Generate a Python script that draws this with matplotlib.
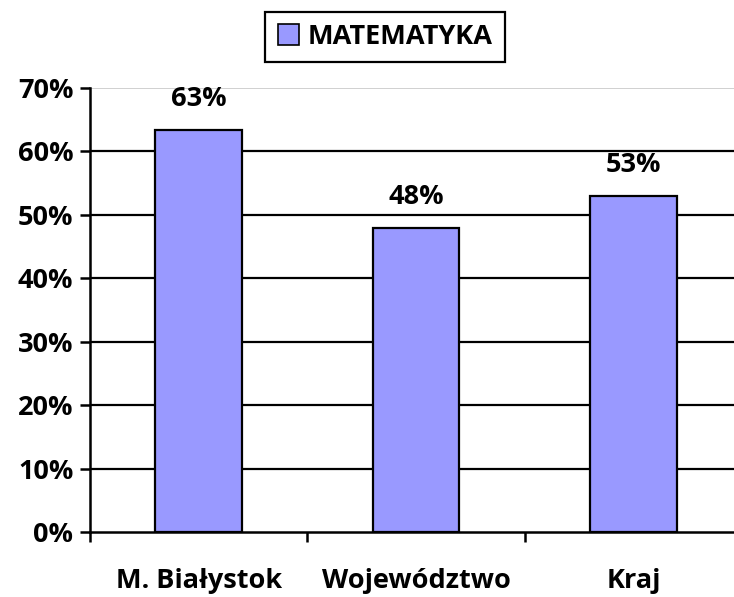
import matplotlib
matplotlib.use("Agg")
import matplotlib.pyplot as plt
from matplotlib.patches import Patch
import numpy as np

categories = ["M. Białystok", "Województwo", "Kraj"]
values = [63.4, 47.9, 53.0]
value_labels = ["63%", "48%", "53%"]
yticks = [0, 10, 20, 30, 40, 50, 60, 70]
series_name = "MATEMATYKA"

plt.rcParams["font.family"] = ["Open Sans", "DejaVu Sans"]
plt.rcParams["font.weight"] = "bold"
FS = 19.5

fig = plt.figure(figsize=(7.34, 5.97), dpi=100)
ax = fig.add_axes([90 / 734, 65 / 597, 652 / 734, 444 / 597])

x = np.arange(len(categories))
ax.bar(x, values, 0.4, color="#9999FF", edgecolor="black", linewidth=1.6, zorder=3)

for xi, v, lab in zip(x, values, value_labels):
    ax.annotate(lab, (xi, v), xytext=(0, 13), textcoords="offset points",
                ha="center", va="bottom", fontsize=FS, fontweight="bold")

ax.set_xlim(-0.5, 2.5)
ax.set_ylim(0, 70)
ax.set_yticks(yticks)
ax.set_yticklabels([f"{t}%" for t in yticks], fontsize=FS, fontweight="bold")
for t in yticks[1:-1]:
    ax.axhline(t, color="black", lw=1.6, zorder=1)
ax.axhline(70, color="#c8c8c8", lw=1.2, zorder=1)

ax.set_xticks(x)
ax.set_xticklabels(categories, fontsize=FS, fontweight="bold")
ax.tick_params(axis="x", length=0, pad=26)
ax.set_xticks([-0.5, 0.5, 1.5], minor=True)
ax.tick_params(axis="x", which="minor", length=7, width=1.8, direction="out")
ax.tick_params(axis="y", length=7, width=1.8, direction="out", pad=5)

for s in ("top", "right"):
    ax.spines[s].set_visible(False)
ax.spines["left"].set_linewidth(1.8)
ax.spines["bottom"].set_linewidth(1.8)

fig.legend(handles=[Patch(facecolor="#9999FF", edgecolor="black", linewidth=1.2, label=series_name)],
           loc="center", bbox_to_anchor=(385 / 734, 1 - 37 / 597),
           prop={"weight": "bold", "size": FS}, frameon=True, fancybox=False,
           edgecolor="black", handlelength=0.8, handleheight=0.8, handletextpad=0.3,
           borderpad=0.45, borderaxespad=0, framealpha=1)
fig.legends[0].get_frame().set_linewidth(1.6)

fig.savefig("out.png", dpi=100)
